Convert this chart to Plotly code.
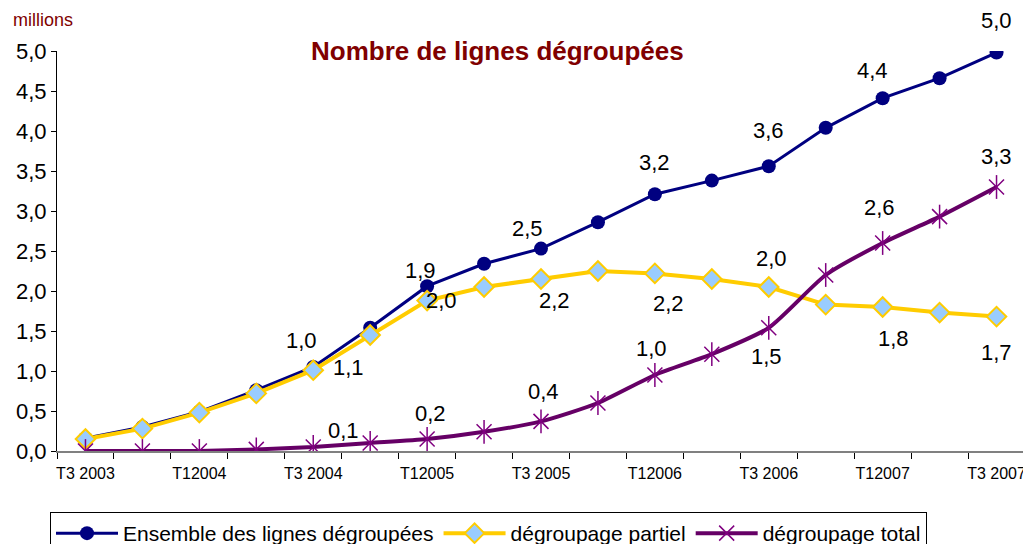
import plotly.graph_objects as go

categories = ["T3 2003", "T4 2003", "T12004", "T2 2004", "T3 2004", "T4 2004",
              "T12005", "T2 2005", "T3 2005", "T4 2005", "T12006", "T2 2006",
              "T3 2006", "T4 2006", "T12007", "T2 2007", "T3 2007"]
ensemble = [0.16, 0.30, 0.49, 0.76, 1.05, 1.54, 2.06, 2.34, 2.53, 2.86, 3.21, 3.38,
            3.56, 4.04, 4.41, 4.66, 4.98]
partiel = [0.15, 0.28, 0.48, 0.72, 1.01, 1.45, 1.88, 2.05, 2.15, 2.25, 2.22, 2.15,
           2.05, 1.83, 1.80, 1.73, 1.68]
total = [0.0, 0.0, 0.0, 0.02, 0.05, 0.10, 0.15, 0.24, 0.37, 0.60, 0.95, 1.21,
         1.54, 2.20, 2.60, 2.93, 3.30]
tick_labels = ["T3 2003", "T12004", "T3 2004", "T12005", "T3 2005", "T12006",
               "T3 2006", "T12007", "T3 2007"]

# data labels: (series, index, text, xshift, yshift)
labels = [
    ("ensemble", 4, "1,0", -12, 27), ("partiel", 4, "1,1", 35, 3),
    ("ensemble", 6, "1,9", -7, 16), ("partiel", 6, "2,0", 14, 0),
    ("ensemble", 8, "2,5", -14, 20), ("partiel", 8, "2,2", 13, -21),
    ("ensemble", 10, "3,2", 0, 32), ("partiel", 10, "2,2", 14, -30),
    ("ensemble", 12, "3,6", 0, 36), ("partiel", 12, "2,0", 3, 29),
    ("ensemble", 14, "4,4", -10, 28), ("ensemble", 16, "5,0", 0, 32),
    ("total", 14, "2,6", -3, 36), ("total", 16, "3,3", 0, 31),
    ("partiel", 14, "1,8", 11, -31), ("partiel", 16, "1,7", 0, -36),
    ("total", 12, "1,5", -2, -29), ("total", 10, "1,0", -3, 27),
    ("total", 8, "0,4", 2, 30), ("total", 6, "0,2", 3, 26),
    ("total", 4, "0,1", 30, 17),
]
series = {"ensemble": ensemble, "partiel": partiel, "total": total}

FONT = "Arial, Liberation Sans, sans-serif"
x = list(range(len(categories)))
fig = go.Figure()
fig.add_trace(go.Scatter(
    x=x, y=ensemble, mode="lines+markers", name="Ensemble des lignes dégroupées",
    line=dict(color="#000080", width=3),
    marker=dict(symbol="circle", size=14, color="#000080"),
))
fig.add_trace(go.Scatter(
    x=x, y=partiel, mode="lines+markers", name="dégroupage partiel",
    line=dict(color="#FFCC00", width=4),
    marker=dict(symbol="diamond", size=15, color="#99CCFF",
                line=dict(color="#FFCC00", width=2)),
))
fig.add_trace(go.Scatter(
    x=x, y=total, mode="lines+markers", name="dégroupage total",
    line=dict(color="#660066", width=4, shape="spline", smoothing=0.6),
    marker=dict(symbol="x-thin-open", size=15, color="#800080",
                line=dict(color="#800080", width=1.5)),
))
fig.add_trace(go.Scatter(
    x=x, y=total, mode="markers", showlegend=False, hoverinfo="skip",
    marker=dict(symbol="line-ns-open", size=17, color="#800080",
                line=dict(color="#800080", width=1.5)),
))

for s, i, t, dx, dy in labels:
    fig.add_annotation(x=i, y=series[s][i], text=t, showarrow=False,
                       xshift=dx, yshift=dy,
                       font=dict(family=FONT, size=22, color="black"))

fig.add_annotation(xref="paper", yref="paper", x=0.455, y=1.0, yshift=0,
                   xanchor="center", yanchor="middle",
                   text="<b>Nombre de lignes dégroupées</b>", showarrow=False,
                   font=dict(family=FONT, size=26, color="#800000"))
fig.add_annotation(xref="paper", yref="paper", x=0, y=1, xshift=-46, yshift=31,
                   xanchor="left", yanchor="middle", text="millions", showarrow=False,
                   font=dict(family=FONT, size=18, color="#800000"))

# page body has an 8px margin: figure sized 1023x536 so it fills the window
fig.update_layout(
    width=1023, height=536,
    margin=dict(l=49, r=6, t=43, b=93),
    paper_bgcolor="white", plot_bgcolor="white",
    separators=", ",
    font=dict(family=FONT, color="black"),
    showlegend=True,
    legend=dict(orientation="h", xref="container", yref="container",
                x=42/1023, y=1 - 504/536, xanchor="left", yanchor="top",
                bordercolor="black", borderwidth=1, bgcolor="white",
                font=dict(size=21, family=FONT),
                itemwidth=62, tracegroupgap=0),
    xaxis=dict(range=[-0.5, 16.5], tickmode="array",
               tickvals=x[::2], ticktext=tick_labels,
               ticks="outside", ticklen=7, tickcolor="rgba(0,0,0,0)",
               showgrid=False, zeroline=False, automargin=False,
               showline=True, linecolor="#808080", linewidth=2,
               tickfont=dict(size=16),
               minor=dict(tickmode="linear", tick0=-0.5, dtick=1, ticks="outside",
                          ticklen=6, tickcolor="black", tickwidth=1, showgrid=False)),
    yaxis=dict(range=[0, 5], dtick=0.5, tickformat=".1f",
               ticks="outside", ticklen=5, tickcolor="black",
               showgrid=False, zeroline=False, automargin=False,
               showline=True, linecolor="black", linewidth=1,
               tickfont=dict(size=22)),
)

fig.write_html("out.html")
